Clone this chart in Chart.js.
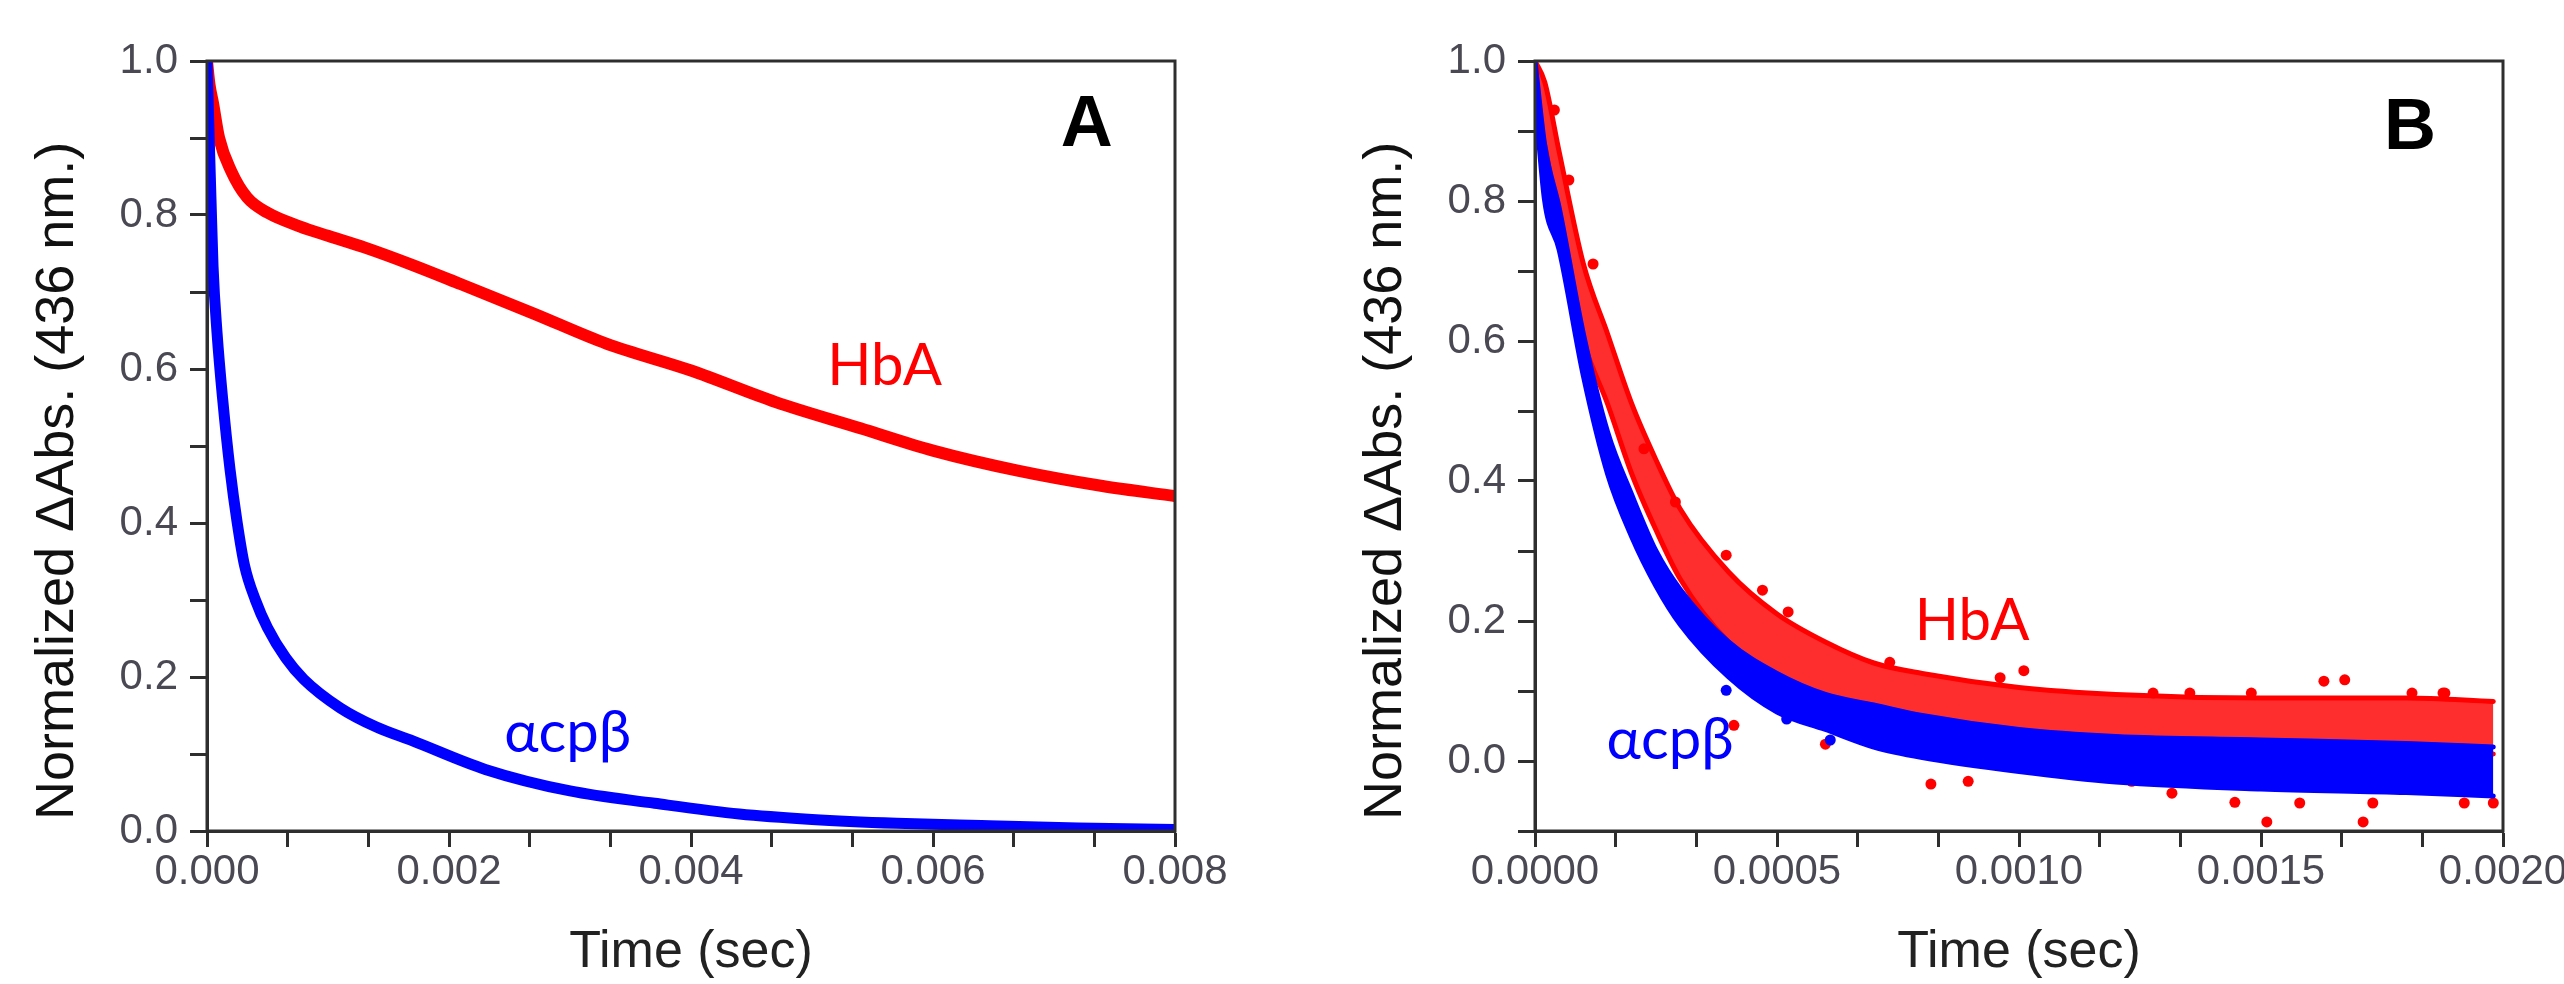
<!DOCTYPE html>
<html lang="en">
<head>
<meta charset="UTF-8">
<title>Normalized ΔAbs. (436 nm.) vs Time</title>
<script src="https://cdn.jsdelivr.net/npm/chart.js"></script>
<style>
    body {
        margin: 0;
        background: #fff;
        width: 2564px;
        height: 984px;
        overflow: hidden;
        position: relative;
    }
    .panel {
        position: absolute;
        top: 0;
        width: 1282px;
        height: 984px;
    }
    #panelA { left: 0; }
    #panelB { left: 1282px; }
</style>
</head>
<body>
<div class="panel" id="panelA"><canvas id="chartA" width="1282" height="984"></canvas></div>
<div class="panel" id="panelB"><canvas id="chartB" width="1282" height="984"></canvas></div>

<script>
// ---------- Panel A ----------
const timeHbA_A = [0, 0.00002, 0.00005, 0.0001, 0.0002, 0.00033, 0.0005, 0.00077, 0.001, 0.0013, 0.0017,
                   0.0021, 0.0027, 0.0033, 0.004, 0.0047, 0.0054, 0.006, 0.0067, 0.0074, 0.008];
const hbA_A     = [1.0, 0.97, 0.945, 0.9, 0.857, 0.823, 0.803, 0.785, 0.773, 0.758, 0.735,
                   0.71, 0.672, 0.633, 0.598, 0.557, 0.523, 0.494, 0.468, 0.448, 0.435];

const timeAcp_A = [0, 0.000017, 0.000033, 0.00005, 0.000083, 0.00013, 0.00019, 0.00025, 0.00031, 0.0004,
                   0.0005, 0.00065, 0.0008, 0.0011, 0.0014, 0.0017, 0.0023, 0.003, 0.0037, 0.0044,
                   0.005, 0.0057, 0.0064, 0.0072, 0.008];
const acp_A     = [1.0, 0.906, 0.82, 0.733, 0.647, 0.56, 0.47, 0.40, 0.345, 0.30,
                   0.264, 0.225, 0.197, 0.16, 0.135, 0.117, 0.08, 0.052, 0.036, 0.022,
                   0.015, 0.01, 0.007, 0.004, 0.002];

// ---------- Panel B: noisy traces kept as upper / lower envelopes plus stray points ----------
const timeB      = [0, 0.00002, 0.00005, 0.0001, 0.00015, 0.0002, 0.00025, 0.0003, 0.0004, 0.0005,
                    0.0006, 0.0007, 0.0008, 0.001, 0.0012, 0.0015, 0.0018, 0.00198];
const hbaHigh_B  = [1.00, 0.97, 0.87, 0.71, 0.61, 0.51, 0.43, 0.36, 0.27, 0.21,
                    0.17, 0.14, 0.125, 0.105, 0.095, 0.09, 0.09, 0.085];
const hbaLow_B   = [0.90, 0.88, 0.75, 0.60, 0.51, 0.41, 0.33, 0.26, 0.17, 0.12,
                    0.09, 0.07, 0.055, 0.035, 0.025, 0.02, 0.015, 0.01];
const acpHigh_B  = [1.00, 0.88, 0.79, 0.61, 0.47, 0.38, 0.30, 0.245, 0.17, 0.125,
                    0.095, 0.08, 0.065, 0.045, 0.035, 0.03, 0.025, 0.02];
const acpLow_B   = [0.95, 0.80, 0.73, 0.55, 0.41, 0.32, 0.25, 0.195, 0.12, 0.07,
                    0.045, 0.02, 0.005, -0.015, -0.03, -0.04, -0.045, -0.05];

const hbaStrayT_B = [0.00004, 0.00007, 0.00012, 0.000225, 0.00029, 0.000395, 0.00047, 0.000523, 0.000733,
                     0.000961, 0.00101, 0.001277, 0.001353, 0.00148, 0.00163, 0.001673, 0.001812,
                     0.001876, 0.00188, 0.000411, 0.0006, 0.000818, 0.000895, 0.001233, 0.001316,
                     0.001446, 0.001512, 0.00158, 0.001711, 0.001731, 0.00192, 0.00198];
const hbaStrayV_B = [0.93, 0.83, 0.71, 0.446, 0.37, 0.294, 0.244, 0.213, 0.141,
                     0.119, 0.129, 0.097, 0.097, 0.097, 0.114, 0.116, 0.097,
                     0.097, 0.097, 0.051, 0.024, -0.033, -0.029, -0.029, -0.046,
                     -0.059, -0.087, -0.06, -0.087, -0.06, -0.06, -0.06];
const acpStrayT_B = [0.000395, 0.00052, 0.00061];
const acpStrayV_B = [0.101, 0.06, 0.03];

// ---------- ticks ----------
const xMajorA = [0, 0.002, 0.004, 0.006, 0.008];
const xLabelsA = ['0.000', '0.002', '0.004', '0.006', '0.008'];
const yMajorA = [0, 0.2, 0.4, 0.6, 0.8, 1.0];
const yLabelsA = ['0.0', '0.2', '0.4', '0.6', '0.8', '1.0'];
const xMajorB = [0, 0.0005, 0.001, 0.0015, 0.002];
const xLabelsB = ['0.0000', '0.0005', '0.0010', '0.0015', '0.0020'];
const yMajorB = [0, 0.2, 0.4, 0.6, 0.8, 1.0];
const yLabelsB = ['0.0', '0.2', '0.4', '0.6', '0.8', '1.0'];

// ---------- text inside the plots (data coordinates) ----------
const notesA = ['A', 'HbA', 'αcpβ'];
const notesX_A = [0.00727, 0.0056, 0.00298];
const notesY_A = [0.915, 0.603, 0.127];
const notesB = ['B', 'HbA', 'αcpβ'];
const notesX_B = [0.001808, 0.000903, 0.000279];
const notesY_B = [0.903, 0.2, 0.03];

const FONT = '"Liberation Sans", Arial, sans-serif';
const RED = '#ff0000';
const BLUE = '#0000ff';
const AXIS = '#2e2e2e';

function pts(xs, ys) {
    return xs.map((x, i) => ({ x: x, y: ys[i] }));
}

// majors plus (sub-1) minor ticks between them, extended down to min
function buildTicks(majors, sub, min, max) {
    const step = (majors[1] - majors[0]) / sub;
    const out = [];
    for (let k = Math.ceil((min - majors[0]) / step - 1e-6); ; k++) {
        const v = majors[0] + k * step;
        if (v > max + step * 1e-3) break;
        out.push({ value: +v.toFixed(10) });
    }
    return out;
}

function labelFor(v, majors, labels) {
    const tol = (majors[1] - majors[0]) * 1e-3;
    const j = majors.findIndex(m => Math.abs(m - v) < tol);
    return j < 0 ? '' : labels[j];
}

function notesPlugin(texts, xs, ys) {
    const fonts = ['bold 72px ' + FONT, '58px Lato, ' + FONT, '58px Lato, ' + FONT];
    const colors = ['#000', RED, BLUE];
    return {
        id: 'notes',
        afterDatasetsDraw(chart) {
            const { ctx, chartArea: a, scales: { x, y } } = chart;
            ctx.save();
            // frame round the plot
            ctx.strokeStyle = AXIS;
            ctx.lineWidth = 3;
            ctx.strokeRect(a.left, a.top, a.right - a.left, a.bottom - a.top);

            ctx.textAlign = 'center';
            ctx.textBaseline = 'middle';
            texts.forEach((t, i) => {
                ctx.font = fonts[i];
                ctx.fillStyle = colors[i];
                ctx.fillText(t, x.getPixelForValue(xs[i]), y.getPixelForValue(ys[i]));
            });

            // y axis title, starting near the bottom of the axis
            ctx.translate(a.left - 149, a.bottom - 11);
            ctx.rotate(-Math.PI / 2);
            ctx.font = '54px ' + FONT;
            ctx.fillStyle = '#111';
            ctx.textAlign = 'left';
            ctx.fillText('Normalized ΔAbs. (436 nm.)', 0, 0);
            ctx.restore();
        }
    };
}

function makeChart(id, cfg) {
    const tickFont = { family: FONT, size: 42 };
    const tickColor = '#4a4852';
    return new Chart(document.getElementById(id), {
        type: 'line',
        data: { datasets: cfg.datasets },
        options: {
            responsive: false,
            animation: false,
            events: [],
            layout: { padding: { left: 0, top: 61, right: cfg.padRight, bottom: 0 } },
            plugins: { legend: { display: false }, tooltip: { enabled: false } },
            scales: {
                x: {
                    type: 'linear',
                    min: cfg.xMin, max: cfg.xMax,
                    afterBuildTicks: s => { s.ticks = buildTicks(cfg.xMajor, 3, cfg.xMin, cfg.xMax); },
                    ticks: {
                        autoSkip: false, maxRotation: 0, minRotation: 0, padding: 0,
                        font: tickFont, color: tickColor,
                        callback: v => labelFor(v, cfg.xMajor, cfg.xLabels)
                    },
                    grid: { drawOnChartArea: false, drawTicks: true, tickLength: 16, tickColor: AXIS, tickWidth: 3 },
                    border: { display: true, color: AXIS, width: 3 },
                    title: {
                        display: true, text: 'Time (sec)', color: '#222',
                        font: { family: FONT, size: 52 }, padding: { top: 0, bottom: 0 }
                    },
                    afterFit: s => { s.height = 153; s.paddingLeft = 0; s.paddingRight = 0; }
                },
                y: {
                    type: 'linear',
                    min: cfg.yMin, max: cfg.yMax,
                    afterBuildTicks: s => { s.ticks = buildTicks(cfg.yMajor, 2, cfg.yMin, cfg.yMax); },
                    ticks: {
                        autoSkip: false, padding: 12,
                        font: tickFont, color: tickColor,
                        callback: v => labelFor(v, cfg.yMajor, cfg.yLabels)
                    },
                    grid: { drawOnChartArea: false, drawTicks: true, tickLength: 17, tickColor: AXIS, tickWidth: 3 },
                    border: { display: true, color: AXIS, width: 3 },
                    afterFit: s => { s.width = cfg.yWidth; s.paddingTop = 0; s.paddingBottom = 0; }
                }
            }
        },
        plugins: [notesPlugin(cfg.notes, cfg.notesX, cfg.notesY)]
    });
}

const traceStyle = {
    pointRadius: 0, fill: false, cubicInterpolationMode: 'monotone',
    borderCapStyle: 'round', borderJoinStyle: 'round'
};
const strayStyle = { showLine: false, pointRadius: 5.5, pointBorderWidth: 0, fill: false };

makeChart('chartA', {
    xMin: 0, xMax: 0.008, yMin: 0, yMax: 1.0,
    xMajor: xMajorA, xLabels: xLabelsA, yMajor: yMajorA, yLabels: yLabelsA,
    yWidth: 207, padRight: 107,
    notes: notesA, notesX: notesX_A, notesY: notesY_A,
    datasets: [
        Object.assign({ label: 'αcpβ', data: pts(timeAcp_A, acp_A), borderColor: BLUE, borderWidth: 11 }, traceStyle),
        Object.assign({ label: 'HbA', data: pts(timeHbA_A, hbA_A), borderColor: RED, borderWidth: 12 }, traceStyle)
    ]
});

makeChart('chartB', {
    xMin: 0, xMax: 0.002, yMin: -0.1, yMax: 1.0,
    xMajor: xMajorB, xLabels: xLabelsB, yMajor: yMajorB, yLabels: yLabelsB,
    yWidth: 253, padRight: 61,
    notes: notesB, notesX: notesX_B, notesY: notesY_B,
    datasets: [
        Object.assign({ label: 'αcpβ stray', data: pts(acpStrayT_B, acpStrayV_B), backgroundColor: BLUE, borderColor: BLUE }, strayStyle),
        Object.assign({ label: 'αcpβ high', data: pts(timeB, acpHigh_B), borderColor: BLUE, borderWidth: 5 }, traceStyle,
                      { fill: '+1', backgroundColor: BLUE }),
        Object.assign({ label: 'αcpβ low', data: pts(timeB, acpLow_B), borderColor: BLUE, borderWidth: 5 }, traceStyle),
        Object.assign({ label: 'HbA stray', data: pts(hbaStrayT_B, hbaStrayV_B), backgroundColor: RED, borderColor: RED }, strayStyle),
        Object.assign({ label: 'HbA high', data: pts(timeB, hbaHigh_B), borderColor: RED, borderWidth: 5 }, traceStyle,
                      { fill: '+1', backgroundColor: 'rgba(255,0,0,0.82)' }),
        Object.assign({ label: 'HbA low', data: pts(timeB, hbaLow_B), borderColor: RED, borderWidth: 5 }, traceStyle)
    ]
});
</script>
</body>
</html>
